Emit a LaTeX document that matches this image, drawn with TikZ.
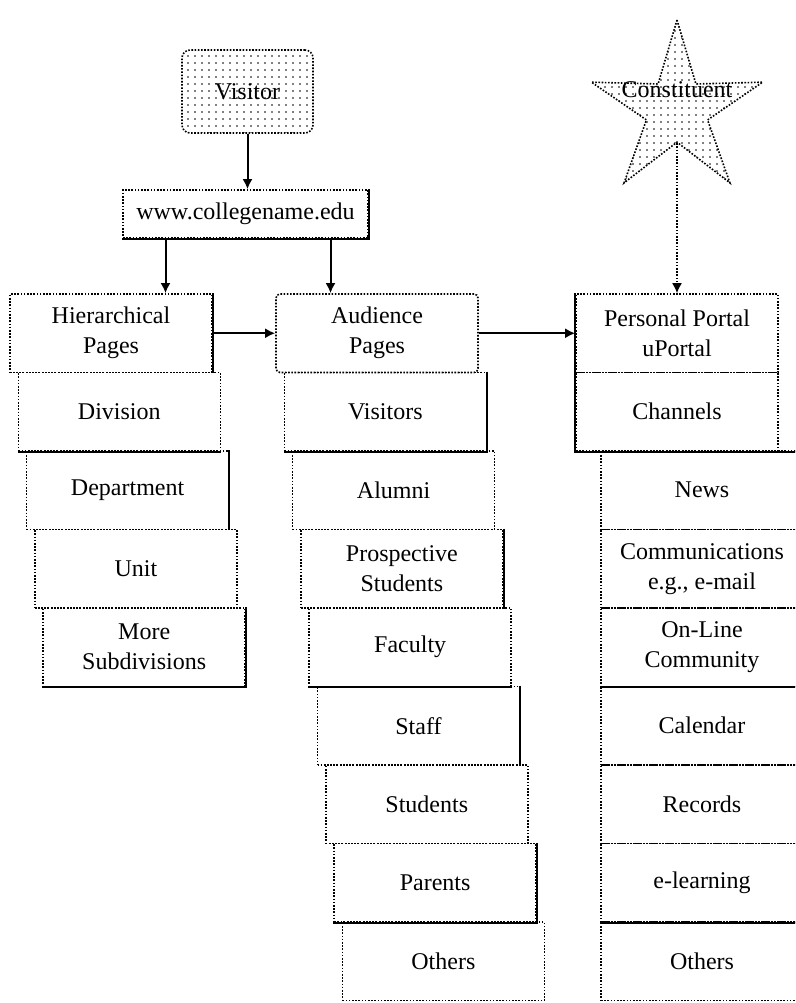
\documentclass[tikz,border=0pt]{standalone}
\usepackage{fontspec}
\setmainfont{Liberation Serif}
\usetikzlibrary{shapes.geometric, patterns.meta, arrows.meta}

\tikzset{
  dotline/.style={line width=1.6pt, dash pattern=on 1.6pt off 1.6pt},
  solidline/.style={line width=2pt, solid},
  pagebox/.style={draw, dotline, minimum width=202pt, minimum height=78.5pt, inner sep=0pt, align=center, font=\fontsize{24}{30}\selectfont},
  linkarrow/.style={-{Latex[length=10pt,width=10pt]}, line width=2pt},
  dotfill/.style={pattern={Dots[distance=6.5pt,radius=0.9pt]}},
}

\begin{document}
\begin{tikzpicture}[x=1pt, y=-1pt]
\useasboundingbox (0,0) rectangle (795,1003);
\clip (0,0) rectangle (795,1003);

% top of the site
\node[draw, dotline, dotfill, rounded corners=8pt, minimum width=131pt, minimum height=83pt, font=\fontsize{24}{30}\selectfont] (visitor) at (247.5,91.5) {Visitor};
\node[draw, dotline, minimum width=245pt, minimum height=48pt, inner sep=0pt, font=\fontsize{24}{30}\selectfont] (www) at (245.5,214) {www.collegename.edu};
\node[star, star points=5, star point ratio=2.8, draw, dotline, dotfill, minimum size=180pt, inner sep=0pt] (star) at (677,110) {};
\node[font=\fontsize{24}{30}\selectfont, inner sep=0pt] (constituent) at (677,90) {Constituent};

% hierarchical pages
\node[pagebox] (hier) at (111,333.25) {Hierarchical\\Pages};
\node[pagebox] (division) at (119.3,411.75) {Division};
\node[pagebox] (department) at (127.6,490.25) {Department};
\node[pagebox] (unit) at (135.9,568.75) {Unit};
\node[pagebox] (more) at (144.2,647.25) {More\\Subdivisions};

% audience pages
\node[pagebox, rounded corners=4pt] (aud) at (377,333.25) {Audience\\Pages};
\node[pagebox] (visitors) at (385.3,411.75) {Visitors};
\node[pagebox] (alumni) at (393.6,490.25) {Alumni};
\node[pagebox] (prosp) at (401.9,568.75) {Prospective\\Students};
\node[pagebox] (faculty) at (410.2,647.25) {Faculty};
\node[pagebox] (staff) at (418.5,725.75) {Staff};
\node[pagebox] (students) at (426.8,804.25) {Students};
\node[pagebox] (parents) at (435.1,882.75) {Parents};
\node[pagebox] (audothers) at (443.4,961.25) {Others};

% personal portal
\node[pagebox] (portal) at (677,333.25) {Personal Portal\\uPortal};
\node[pagebox] (channels) at (677,411.75) {Channels};
\node[pagebox] (news) at (702,490.25) {News};
\node[pagebox] (comm) at (702,568.75) {Communications\\e.g., e-mail};
\node[pagebox] (online) at (702,647.25) {On-Line\\Community};
\node[pagebox] (calendar) at (702,725.75) {Calendar};
\node[pagebox] (records) at (702,804.25) {Records};
\node[pagebox] (elearn) at (702,882.75) {e-learning};
\node[pagebox] (portothers) at (702,961.25) {Others};

% solid edges
\draw[solidline] (www.north east) -- (www.south east) -- (www.south west);
\draw[solidline] (hier.north east) -- (hier.south east);
\draw[solidline] (division.south west) -- (division.south east);
\draw[solidline] (department.north east) -- (department.south east);
\draw[solidline] (more.north east) -- (more.south east) -- (more.south west);
\draw[solidline] (visitors.north east) -- (visitors.south east) -- (visitors.south west);
\draw[solidline] (prosp.north east) -- (prosp.south east);
\draw[solidline] (faculty.south west) -- (faculty.south east);
\draw[solidline] (staff.north east) -- (staff.south east);
\draw[solidline] (parents.north east) -- (parents.south east) -- (parents.south west);
\draw[solidline] (portal.north west) -- (channels.south west) -- (channels.south -| news.east);
\draw[solidline] (online.south west) -- (online.south east);
\draw[solidline] (elearn.south west) -- (elearn.south east);

% links
\draw[linkarrow] (visitor.south) -- (visitor.south |- www.north);
\draw[linkarrow] ([xshift=-80pt]www.south) -- ([xshift=-80pt]www.south |- hier.north);
\draw[linkarrow] ([xshift=85pt]www.south) -- ([xshift=85pt]www.south |- aud.north);
\draw[linkarrow] (hier.east) -- (aud.west);
\draw[linkarrow] (aud.east) -- (portal.west);
\draw[-{Latex[length=10pt,width=10pt]}, dotline] (star.south) -- (portal.north);
\end{tikzpicture}
\end{document}
